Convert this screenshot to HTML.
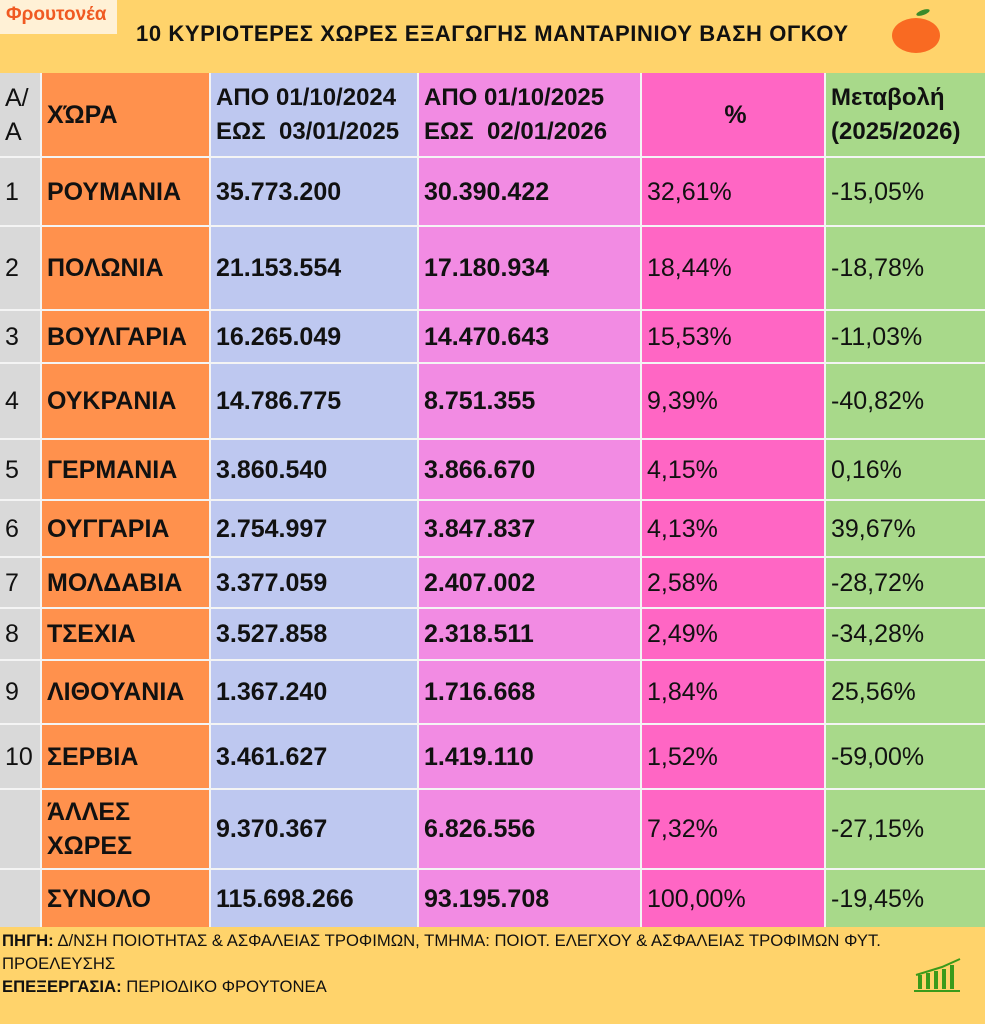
<!DOCTYPE html>
<html><head><meta charset="utf-8"><style>
*{margin:0;padding:0;box-sizing:border-box}
body{width:985px;height:1024px;background:#FFD36B;position:relative;overflow:hidden;font-family:"Liberation Sans","DejaVu Sans",sans-serif;color:#111}
.c{position:absolute;display:flex;align-items:center;padding-left:5px;font-size:25px;line-height:34px;border-right:2px solid #f4f4f4;border-bottom:2px solid #f4f4f4}
.b{font-weight:bold}
.g{background:#D9D9D9}.o{background:#FF914D}.bl{background:#BEC8F0}.p{background:#F28BE3}.h{background:#FF66C4}.gr{background:#A8D98A}
.f{position:absolute;left:2px;font-size:17px;transform:scaleX(0.98);transform-origin:left;white-space:nowrap}
</style></head><body>
<div style="position:absolute;left:0;top:0;width:117px;height:34px;background:#FFF1D6"></div>
<div style="position:absolute;left:6px;top:4px;font-size:19px;font-weight:bold;color:#F05A22">Φρουτονέα</div>
<div style="position:absolute;left:136px;top:21px;font-size:22px;font-weight:bold;letter-spacing:0.6px;white-space:nowrap">10 ΚΥΡΙΟΤΕΡΕΣ ΧΩΡΕΣ ΕΞΑΓΩΓΗΣ ΜΑΝΤΑΡΙΝΙΟΥ ΒΑΣΗ ΟΓΚΟΥ</div>
<div style="position:absolute;left:892px;top:18px;width:48px;height:35px;border-radius:50%;background:#F96A22"></div>
<div style="position:absolute;left:916px;top:10px;width:14px;height:5px;border-radius:50%;background:#3a8a2a;transform:rotate(-20deg)"></div>
<div id="t"></div>
<div class="f" style="top:931px"><b>ΠΗΓΗ:</b> Δ/ΝΣΗ ΠΟΙΟΤΗΤΑΣ &amp; ΑΣΦΑΛΕΙΑΣ ΤΡΟΦΙΜΩΝ, ΤΜΗΜΑ: ΠΟΙΟΤ. ΕΛΕΓΧΟΥ &amp; ΑΣΦΑΛΕΙΑΣ ΤΡΟΦΙΜΩΝ ΦΥΤ.</div>
<div class="f" style="top:954px">ΠΡΟΕΛΕΥΣΗΣ</div>
<div class="f" style="top:977px"><b>ΕΠΕΞΕΡΓΑΣΙΑ:</b> ΠΕΡΙΟΔΙΚΟ ΦΡΟΥΤΟΝΕΑ</div>
<svg style="position:absolute;left:912px;top:955px" width="56" height="40"><g fill="#3a9a1a"><rect x="6" y="20" width="4" height="14"/><rect x="14" y="18" width="4" height="16"/><rect x="22" y="16" width="4" height="18"/><rect x="30" y="14" width="4" height="20"/><rect x="38" y="10" width="4" height="24"/><rect x="2" y="35" width="46" height="2"/></g><path d="M4 20 L30 12 L48 4" stroke="#3a9a1a" stroke-width="2" fill="none"/></svg>
<script>
var cols=[[0,42,'g'],[42,211,'o'],[211,419,'bl'],[419,642,'p'],[642,826,'h'],[826,985,'gr']];
var rows=[73,158,227,311,364,440,501,558,609,661,725,790,870,927];
var d=[['Α/<br>Α','ΧΏΡΑ','ΑΠΟ 01/10/2024<br>ΕΩΣ &nbsp;03/01/2025','ΑΠΟ 01/10/2025<br>ΕΩΣ &nbsp;02/01/2026','%','Μεταβολή<br>(2025/2026)'],
['1','ΡΟΥΜΑΝΙΑ','35.773.200','30.390.422','32,61%','-15,05%'],
['2','ΠΟΛΩΝΙΑ','21.153.554','17.180.934','18,44%','-18,78%'],
['3','ΒΟΥΛΓΑΡΙΑ','16.265.049','14.470.643','15,53%','-11,03%'],
['4','ΟΥΚΡΑΝΙΑ','14.786.775','8.751.355','9,39%','-40,82%'],
['5','ΓΕΡΜΑΝΙΑ','3.860.540','3.866.670','4,15%','0,16%'],
['6','ΟΥΓΓΑΡΙΑ','2.754.997','3.847.837','4,13%','39,67%'],
['7','ΜΟΛΔΑΒΙΑ','3.377.059','2.407.002','2,58%','-28,72%'],
['8','ΤΣΕΧΙΑ','3.527.858','2.318.511','2,49%','-34,28%'],
['9','ΛΙΘΟΥΑΝΙΑ','1.367.240','1.716.668','1,84%','25,56%'],
['10','ΣΕΡΒΙΑ','3.461.627','1.419.110','1,52%','-59,00%'],
['','ΆΛΛΕΣ<br>ΧΩΡΕΣ','9.370.367','6.826.556','7,32%','-27,15%'],
['','ΣΥΝΟΛΟ','115.698.266','93.195.708','100,00%','-19,45%']];
var h='';
for(var r=0;r<d.length;r++)for(var c=0;c<6;c++){
 var C=cols[c];var bold=(c==1||c==2||c==3||r==0&&c>0);
 var st='left:'+C[0]+'px;top:'+rows[r]+'px;width:'+(C[1]-C[0])+'px;height:'+(rows[r+1]-rows[r])+'px;';
 if(r==0&&c==4)st+='justify-content:center;';
 if(r==0&&c>=2&&c!=4)st+='font-size:24px;';
 if(c==5)st+='border-right:none;';
 if(r==12)st+='border-bottom:none;';
 h+='<div class="c '+C[2]+(bold?' b':'')+'" style="'+st+'"><div>'+d[r][c]+'</div></div>';
}
document.getElementById('t').innerHTML=h;
</script>
</body></html>
